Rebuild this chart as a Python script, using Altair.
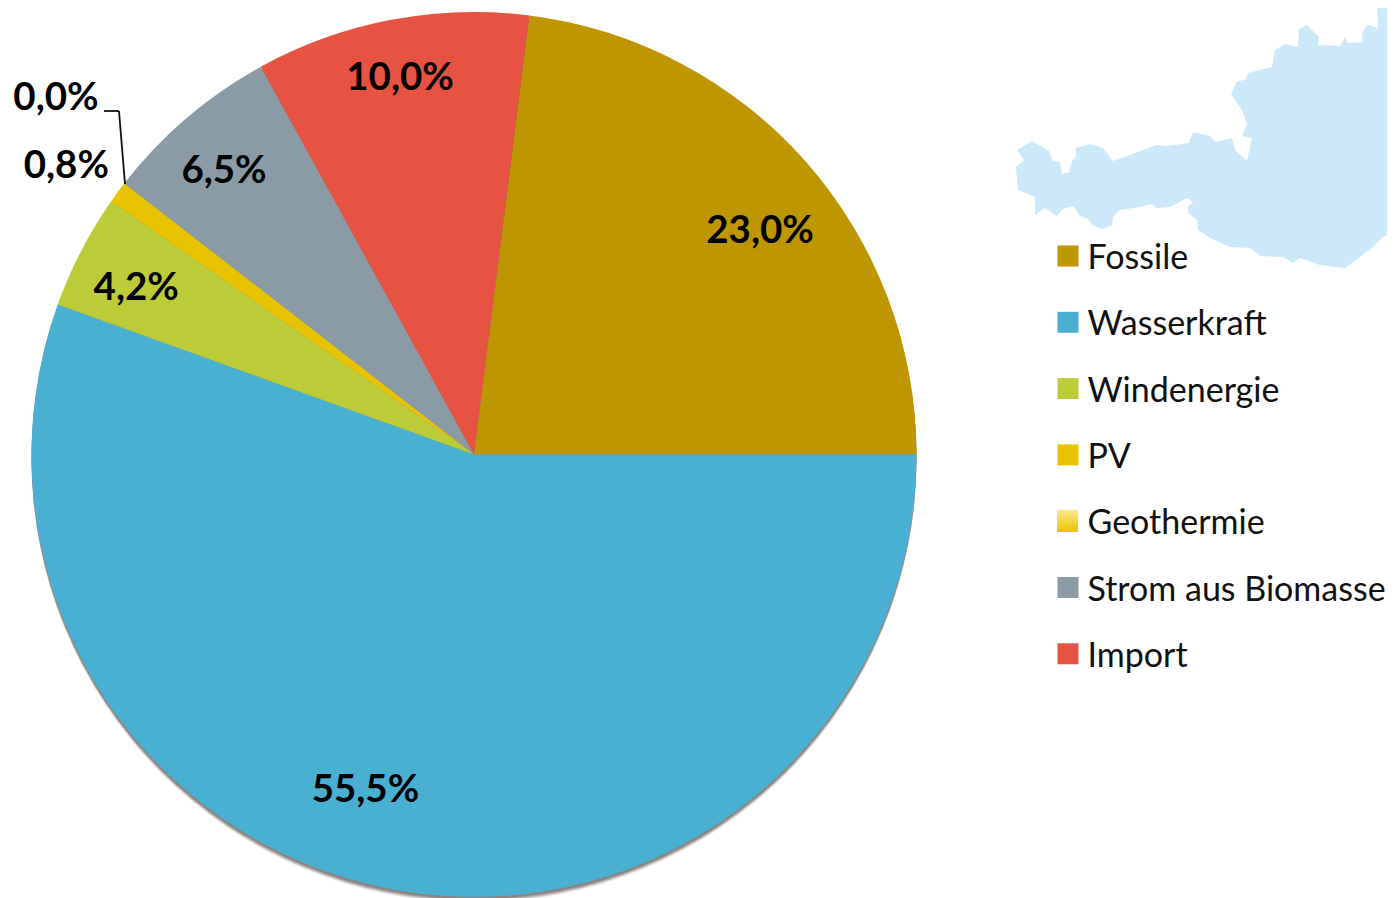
import math
import altair as alt
import pandas as pd

categories = ["Fossile", "Wasserkraft", "Windenergie", "PV", "Geothermie", "Strom aus Biomasse", "Import"]
values = [23.0, 55.5, 4.2, 0.8, 0.0, 6.5, 10.0]
labels = ["23,0%", "55,5%", "4,2%", "0,8%", "0,0%", "6,5%", "10,0%"]
colors = ["#bd9600", "#4ab0d1", "#bccc38", "#e8c400", "transparent", "#8a9ba5", "#e65342"]

# outline of the decorative map, in picture pixels
map_x = [1017, 1032, 1049, 1053, 1060, 1062, 1069, 1072, 1076, 1076, 1090, 1103, 1113, 1157, 1167, 1189, 1193, 1210, 1216, 1232,
         1235, 1247, 1252, 1242, 1247, 1243, 1231, 1237, 1246, 1248, 1272, 1275, 1285, 1298, 1299, 1307, 1319, 1318, 1340, 1345,
         1348, 1363, 1362, 1368, 1378, 1377, 1395, 1395, 1383, 1373, 1345, 1320, 1300, 1293, 1283, 1260, 1250, 1230, 1210, 1198,
         1197, 1188, 1188, 1193, 1187, 1170, 1157, 1152, 1140, 1120, 1113, 1112, 1102, 1092, 1088, 1080, 1074, 1073, 1063, 1057,
         1055, 1045, 1035, 1035, 1018, 1016, 1024, 1017]
map_y = [150, 141, 151, 161, 162, 174, 172, 161, 157, 148, 144, 148, 161, 145, 146, 143, 132, 136, 142, 138,
         150, 161, 138, 136, 124, 112, 94, 82, 79, 73, 67, 50, 44, 47, 29, 25, 37, 45, 46, 37,
         43, 42, 33, 25, 28, 0, 0, 230, 237, 247, 268, 265, 258, 263, 257, 256, 248, 247, 238, 230,
         220, 213, 207, 202, 198, 207, 208, 204, 207, 210, 217, 225, 229, 225, 219, 216, 207, 206, 209, 216,
         215, 208, 215, 197, 190, 167, 160, 150]

df = pd.DataFrame({"cat": categories, "value": values, "label": labels, "order": range(len(categories))})
df["mid"] = df["value"].cumsum() - df["value"] / 2

START = math.radians(7.2)
CX, CY, R = 466, 446.5, 442.5
FONT = "Lato"

theta_scale = alt.Scale(domain=[0, 100], range=[START, START + 2 * math.pi])
color_scale = alt.Scale(domain=categories, range=colors)

austria = {
    "type": "Feature",
    "properties": {},
    "geometry": {"type": "Polygon", "coordinates": [[[x, y] for x, y in zip(map_x, map_y)]]},
}
map_layer = (
    alt.Chart(alt.Data(values=[austria], format=alt.DataFormat(type="json")))
    .mark_geoshape(fill="#cde8f9", stroke=None)
    .project(type="identity", scale=1, translate=[-8, -8])
)

one = pd.DataFrame({"a": [1]})
shadows = [
    alt.Chart(one)
    .mark_arc(radius=R, theta=0, theta2=2 * math.pi, color="#857a7a", opacity=op)
    .encode(x=alt.value(CX), y=alt.value(CY + off))
    for off, op in [(6, 0.12), (5, 0.22), (4, 0.35), (3, 0.5), (2, 0.7)]
]

arcs = (
    alt.Chart(df)
    .mark_arc(radius=R, stroke=None)
    .encode(
        theta=alt.Theta("value:Q", stack=True, scale=theta_scale),
        order=alt.Order("order:Q"),
        color=alt.Color(
            "cat:N",
            scale=color_scale,
            sort=categories,
            legend=alt.Legend(
                orient="none",
                legendX=1043,
                legendY=234,
                title=None,
                symbolType="M-1,-1.286H1V0.714H-1Z",
                symbolSize=441,
                symbolStrokeWidth=0,
                symbolOpacity=1,
                labelFont=FONT,
                labelFontSize=34,
                labelColor="#111111",
                labelLimit=400,
                labelOffset=2.5,
                rowPadding=32.3,
            ),
        ),
        x=alt.value(CX),
        y=alt.value(CY),
    )
)

# radius along the slice middle, then a small nudge
placements = {
    "Fossile": (364, 13, 16),
    "Wasserkraft": (352, -48, -12),
    "Windenergie": (377, -3, 6),
    "PV": (500, -5, 7),
    "Geothermie": (550, 16.5, -20),
    "Strom aus Biomasse": (378, -4.5, 3),
    "Import": (384, -2, 0),
}
text_layers = [
    alt.Chart(df)
    .transform_filter(alt.datum.cat == c)
    .mark_text(radius=r, dx=dx, dy=dy + 1, font=FONT, fontWeight="bold", fontSize=38.5, color="#000000", baseline="middle", align="center")
    .encode(
        theta=alt.Theta("mid:Q", stack=False, scale=theta_scale),
        text="label:N",
        x=alt.value(CX),
        y=alt.value(CY),
    )
    for c, (r, dx, dy) in placements.items()
]

leader = [
    alt.Chart(one).mark_rule(color="#111111", strokeWidth=1.8).encode(x=alt.value(x1), x2=alt.value(x2), y=alt.value(y1), y2=alt.value(y2))
    for x1, y1, x2, y2 in [(96, 103, 111, 103), (111, 103, 117, 176)]
]

swatch = (
    alt.Chart(one)
    .mark_rect(
        color=alt.LinearGradient(
            gradient="linear", x1=0, y1=0, x2=0, y2=1,
            stops=[alt.GradientStop(offset=0, color="#fde98f"), alt.GradientStop(offset=1, color="#eac400")],
        )
    )
    .encode(x=alt.value(1049), x2=alt.value(1070), y=alt.value(502), y2=alt.value(524))
)

chart = (
    alt.layer(map_layer, *shadows, arcs, *text_layers, *leader, swatch)
    .resolve_scale(theta="shared")
    .properties(width=1379, height=890, padding=0, autosize=alt.AutoSizeParams(type="none"), background="white")
    .configure_view(strokeWidth=0, stroke=None)
)
chart.save("out.html", embed_options={"renderer": "svg", "actions": False})
